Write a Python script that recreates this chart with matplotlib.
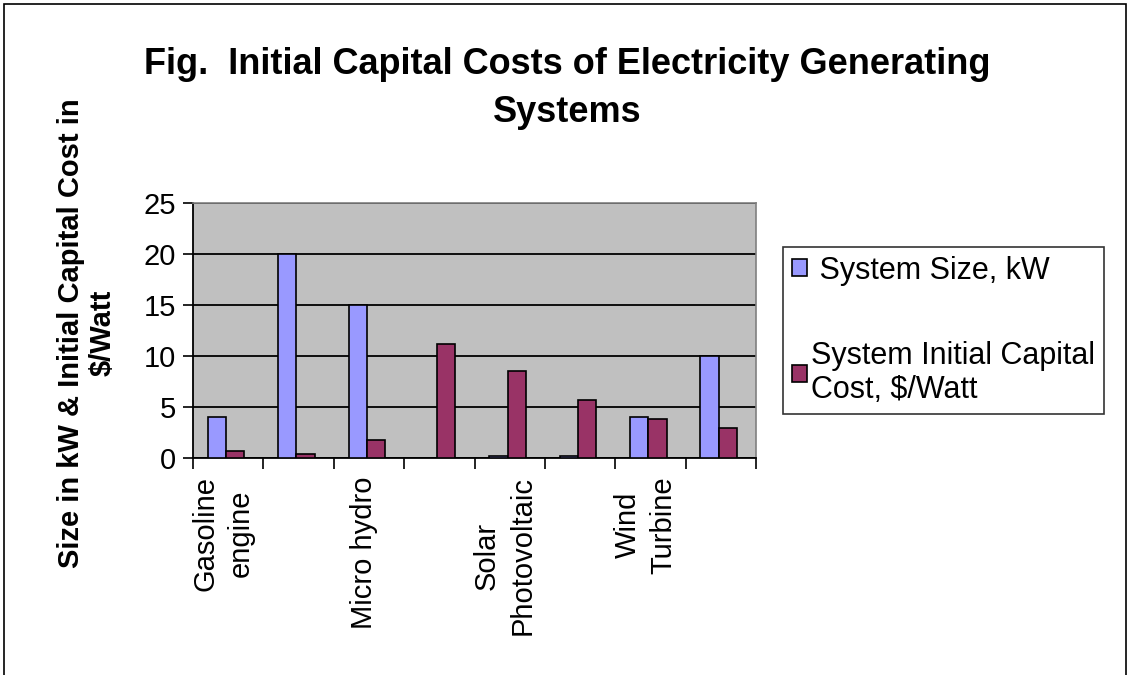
import numpy as np
import matplotlib
matplotlib.use("Agg")
import matplotlib.pyplot as plt
import matplotlib.transforms as mtransforms
from matplotlib.patches import Rectangle

# ─── Data ───────────────────────────────────────────────────
categories = ["Gasoline\nengine", "", "Micro hydro", "",
              "Solar\nPhotovoltaic", "", "Wind\nTurbine", ""]
system_size_kw = [4.0, 20.0, 15.0, 0.0, 0.2, 0.2, 4.0, 10.0]
capital_cost_per_watt = [0.7, 0.4, 1.8, 11.2, 8.5, 5.7, 3.8, 2.9]
series_labels = [" System Size, kW", "System Initial Capital\nCost, $/Watt"]
y_ticks = [0, 5, 10, 15, 20, 25]

title = "Fig.  Initial Capital Costs of Electricity Generating\nSystems"
y_label = "Size in kW & Initial Capital Cost in\n$/Watt"

plt.rcParams["font.family"] = ["Liberation Sans", "DejaVu Sans"]

W, H = 1129, 675
fig = plt.figure(figsize=(W / 100, H / 100), dpi=100)
ax = fig.add_axes([193 / W, 1 - 458 / H, (756 - 193) / W, (458 - 203) / H])
ax.set_facecolor("#C0C0C0")

x = np.arange(len(categories))
bw = 0.26
b1 = ax.bar(x - bw / 2 - 0.03, system_size_kw, bw, color="#9999FF",
            edgecolor="black", linewidth=1.2, zorder=3)
b2 = ax.bar(x + bw / 2 - 0.03, capital_cost_per_watt, bw, color="#993366",
            edgecolor="black", linewidth=1.2, zorder=3)

ax.set_xlim(-0.5, len(categories) - 0.5)
ax.set_ylim(0, 25)
ax.set_yticks(y_ticks)
ax.yaxis.grid(True, color="black", linewidth=1.3, zorder=1)
ax.tick_params(axis="y", labelsize=21, length=7, width=1.2, pad=5)

# category ticks at boundaries, labels on every category (blanks hidden)
ax.set_xticks(np.arange(-0.5, len(categories)), minor=True)
ax.set_xticks(x)
ax.set_xticklabels(categories, rotation=90, fontsize=21,
                   va="top", ha="center", multialignment="center",
                   linespacing=1.35)
ax.tick_params(axis="x", which="major", length=0, pad=13)
ax.tick_params(axis="x", which="minor", length=8, width=1.2)
shift = mtransforms.ScaledTranslation(-5 / 100, 0, fig.dpi_scale_trans)
for lbl in ax.get_xticklabels():
    lbl.set_transform(lbl.get_transform() + shift)

for side in ("left", "bottom"):
    ax.spines[side].set_color("black")
    ax.spines[side].set_linewidth(1.3)
for side in ("top", "right"):
    ax.spines[side].set_color("#808080")
    ax.spines[side].set_linewidth(1.2)

fig.text(0.502, 1 - 47 / H, title, ha="center", va="top",
         fontsize=26, fontweight="bold", linespacing=1.47)
fig.text(87 / W, 1 - 333 / H, y_label, rotation=90, ha="center",
         va="center", fontsize=21, fontweight="bold", linespacing=1.15,
         multialignment="center")

leg = fig.legend([b1, b2], series_labels, loc="upper left",
                 bbox_to_anchor=(783 / W, 1 - 247 / H), fontsize=22,
                 frameon=True, fancybox=False, edgecolor="black",
                 handlelength=0.5, handleheight=0.5, handletextpad=0.15,
                 labelspacing=1.8, borderpad=0.28, borderaxespad=0)
leg.get_frame().set_linewidth(1.2)
for t in leg.get_texts():
    t.set_linespacing(1.2)

# outer chart border
fig.patches.append(Rectangle((4 / W, -0.01), (W - 7) / W, 1 - 4 / H + 0.01,
                             transform=fig.transFigure, fill=False,
                             edgecolor="black", linewidth=1.2))

fig.savefig("out.png", dpi=100)
